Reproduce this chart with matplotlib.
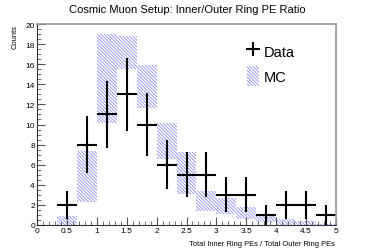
import matplotlib
matplotlib.use("Agg")
import matplotlib.pyplot as plt
import numpy as np
from matplotlib.patches import Patch
from matplotlib.lines import Line2D
from matplotlib.ticker import MultipleLocator

plt.rcParams['font.family'] = ['Liberation Sans', 'DejaVu Sans']
plt.rcParams['hatch.linewidth'] = 0.5

# Data
bin_edges = np.linspace(0, 5, 16)
data_counts = [0, 2, 8, 11, 13, 10, 6, 5, 5, 3, 3, 1, 2, 2, 1]
mc_low = [0, 0, 2.3, 10.1, 15.5, 11.6, 6.6, 3.1, 1.4, 1.1, 0.6, 0.3, 0, 0, 0]
mc_high = [0, 0.9, 7.4, 19.0, 18.8, 15.9, 10.1, 7.3, 3.4, 2.7, 1.8, 1.0, 0.6, 0.4, 0.1]

title = "Cosmic Muon Setup: Inner/Outer Ring PE Ratio"
xlabel = "Total Inner Ring PEs / Total Outer Ring PEs"
ylabel = "Counts"

fig = plt.figure(figsize=(3.74, 2.53), dpi=100)
ax = fig.add_axes([37/374, 27/253, 299/374, 201/253])

hatch_color = '#7a7af5'
hatch = '\\' * 10
centers = 0.5 * (bin_edges[:-1] + bin_edges[1:])
widths = np.diff(bin_edges)
lo = np.array(mc_low)
hi = np.array(mc_high)
ax.bar(centers, hi - lo, width=widths, bottom=lo, color='none',
       edgecolor=hatch_color, hatch=hatch, linewidth=0)

cnt = np.array(data_counts, dtype=float)
mask = cnt > 0
ax.errorbar(centers[mask], cnt[mask], xerr=widths[mask] / 2, yerr=np.sqrt(cnt[mask]),
            fmt='none', ecolor='black', elinewidth=1.5, capsize=0)

ax.set_xlim(0, 5)
ax.set_ylim(0, 20)
ax.xaxis.set_ticks([0, 0.5, 1, 1.5, 2, 2.5, 3, 3.5, 4, 4.5, 5])
ax.set_xticklabels(['0', '0.5', '1', '1.5', '2', '2.5', '3', '3.5', '4', '4.5', '5'])
ax.xaxis.set_minor_locator(MultipleLocator(0.1))
ax.set_yticks(range(0, 21, 2))
ax.yaxis.set_minor_locator(MultipleLocator(0.5))
ax.tick_params(which='both', direction='in', top=False, right=False, labelsize=6,
               pad=1.5, color='#555555')
ax.tick_params(which='major', length=6, width=0.8)
ax.tick_params(which='minor', length=3, width=0.6)

for s in ['top', 'right']:
    ax.spines[s].set_color('#999999')
    ax.spines[s].set_linewidth(1.2)
for s in ['left', 'bottom']:
    ax.spines[s].set_color('#333333')
    ax.spines[s].set_linewidth(0.8)

fig.text(187/374, 1 - 10/253, title, ha='center', va='center', fontsize=8)
fig.text(335/374, 1 - 245/253, xlabel, ha='right', va='center', fontsize=5.4)
fig.text(15/374, 1 - 25/253, ylabel, ha='center', va='top', rotation=90, fontsize=5.4)

handles = [Line2D([], [], color='black', marker='+', markersize=10, markeredgewidth=1.5,
                  linestyle='none'),
           Patch(facecolor='none', edgecolor=hatch_color, hatch=hatch, linewidth=0)]
ax.legend(handles, ['Data', 'MC'], loc='upper left', bbox_to_anchor=(203/299, 1 - 10/201),
          frameon=False, fontsize=10.5, handlelength=0.8, handleheight=1.8,
          handletextpad=0.3, labelspacing=0.25, borderpad=0)

fig.savefig('out.png', dpi=100)
